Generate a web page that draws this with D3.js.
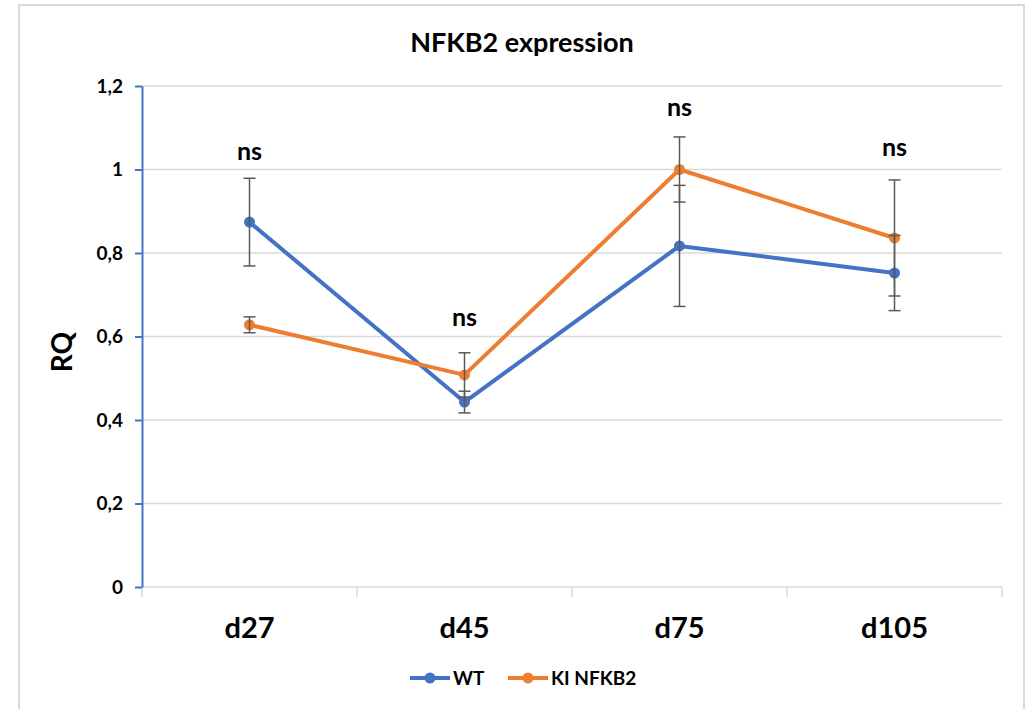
<!DOCTYPE html>
<html>
<head>
<meta charset="utf-8">
<script src="https://cdn.jsdelivr.net/npm/d3@7/dist/d3.min.js"></script>
<style>
  body { margin: 0; background: #fff; }
  text { font-family: Lato, "Open Sans", sans-serif; font-weight: bold; fill: #000; }
</style>
</head>
<body>
<div id="chart"></div>
<script>
var days = ["d27", "d45", "d75", "d105"];
var wtValues = [0.874, 0.443, 0.817, 0.752];
var wtErrors = [0.105, 0.026, 0.145, 0.090];
var kiValues = [0.628, 0.508, 1.000, 0.836];
var kiErrors = [0.019, 0.053, 0.078, 0.139];
var nsLabels = ["ns", "ns", "ns", "ns"];
var nsHeights = [1.042, 0.644, 1.147, 1.051];
var yTicks = [0, 0.2, 0.4, 0.6, 0.8, 1, 1.2];
var seriesNames = ["WT", "KI NFKB2"];
var seriesColors = ["#4472C4", "#ED7D31"];

var width = 1029, height = 709;
var margin = {top: 86, right: 27, bottom: 122, left: 142};

var svg = d3.select("#chart").append("svg")
    .attr("width", width)
    .attr("height", height);

// chart border
svg.append("rect")
    .attr("x", 19).attr("y", 5)
    .attr("width", 1005).attr("height", 720)
    .attr("fill", "none")
    .attr("stroke", "#d9d9d9")
    .attr("stroke-width", 2);

var x = d3.scaleBand()
    .domain(days)
    .range([margin.left, width - margin.right]);

var y = d3.scaleLinear()
    .domain([0, 1.2])
    .range([height - margin.bottom, margin.top]);

var cx = function(d) { return x(d) + x.bandwidth() / 2; };

// gridlines
svg.append("g")
    .selectAll("line")
    .data(yTicks.slice(1))
    .enter().append("line")
    .attr("x1", margin.left).attr("x2", width - margin.right)
    .attr("y1", function(d) { return y(d); })
    .attr("y2", function(d) { return y(d); })
    .attr("stroke", "#d9d9d9")
    .attr("stroke-width", 1.5);

// x axis (grey with tick marks at band boundaries)
var xAxis = svg.append("g")
    .attr("transform", "translate(0," + y(0) + ")");
xAxis.append("line")
    .attr("x1", margin.left).attr("x2", width - margin.right)
    .attr("stroke", "#d9d9d9").attr("stroke-width", 1.5);
var bounds = days.map(function(d) { return x(d); }).concat([x(days[days.length - 1]) + x.bandwidth()]);
xAxis.selectAll(".xt")
    .data(bounds)
    .enter().append("line")
    .attr("x1", function(d) { return d; }).attr("x2", function(d) { return d; })
    .attr("y1", 0).attr("y2", 10)
    .attr("stroke", "#d9d9d9").attr("stroke-width", 1.5);
xAxis.selectAll(".xl")
    .data(days)
    .enter().append("text")
    .attr("x", cx)
    .attr("y", 51)
    .attr("text-anchor", "middle")
    .style("font-size", "29px")
    .text(function(d) { return d; });

// y axis (blue)
var yAxis = svg.append("g")
    .attr("transform", "translate(" + margin.left + ",0)")
    .call(d3.axisLeft(y)
        .tickValues(yTicks)
        .tickSizeInner(7)
        .tickSizeOuter(0)
        .tickPadding(12)
        .tickFormat(function(d) { return String(d).replace(".", ","); }));
yAxis.select(".domain").attr("stroke", "#4472C4").attr("stroke-width", 2);
yAxis.selectAll(".tick line").attr("stroke", "#4472C4").attr("stroke-width", 2);
yAxis.selectAll(".tick text")
    .style("font-size", "19px")
    .style("font-family", "Lato, sans-serif")
    .attr("fill", "#000");

// y label
svg.append("text")
    .attr("transform", "translate(72,352) rotate(-90)")
    .attr("text-anchor", "middle")
    .style("font-size", "28px")
    .text("RQ");

// title
svg.append("text")
    .attr("x", 522).attr("y", 52)
    .attr("text-anchor", "middle")
    .style("font-size", "27px")
    .text("NFKB2 expression");

var series = [
  {name: seriesNames[0], color: seriesColors[0], values: wtValues, errors: wtErrors},
  {name: seriesNames[1], color: seriesColors[1], values: kiValues, errors: kiErrors}
];

var line = d3.line()
    .x(function(d) { return cx(d.day); })
    .y(function(d) { return y(d.v); });

// lines and markers
series.forEach(function(s) {
  var pts = days.map(function(d, i) { return {day: d, v: s.values[i], e: s.errors[i]}; });
  svg.append("path")
      .datum(pts)
      .attr("d", line)
      .attr("fill", "none")
      .attr("stroke", s.color)
      .attr("stroke-width", 4)
      .attr("stroke-linejoin", "round");
  svg.append("g").selectAll("circle")
      .data(pts)
      .enter().append("circle")
      .attr("cx", function(d) { return cx(d.day); })
      .attr("cy", function(d) { return y(d.v); })
      .attr("r", 5.5)
      .attr("fill", s.color);
});

// error bars
series.forEach(function(s) {
  var pts = days.map(function(d, i) { return {day: d, v: s.values[i], e: s.errors[i]}; });
  var eb = svg.append("g").selectAll("g")
      .data(pts)
      .enter().append("g")
      .attr("stroke", "#595959")
      .attr("stroke-width", 1.5);
  eb.append("line")
      .attr("x1", function(d) { return cx(d.day); })
      .attr("x2", function(d) { return cx(d.day); })
      .attr("y1", function(d) { return y(d.v - d.e); })
      .attr("y2", function(d) { return y(d.v + d.e); });
  [-1, 1].forEach(function(sign) {
    eb.append("line")
        .attr("x1", function(d) { return cx(d.day) - 6; })
        .attr("x2", function(d) { return cx(d.day) + 6; })
        .attr("y1", function(d) { return y(d.v + sign * d.e); })
        .attr("y2", function(d) { return y(d.v + sign * d.e); });
  });
});

// significance labels
svg.append("g").selectAll("text")
    .data(days)
    .enter().append("text")
    .attr("x", cx)
    .attr("y", function(d, i) { return y(nsHeights[i]) + 8; })
    .attr("text-anchor", "middle")
    .style("font-size", "25px")
    .text(function(d, i) { return nsLabels[i]; });

// legend
var legendX = [410, 508];
var legend = svg.append("g").selectAll("g")
    .data(series)
    .enter().append("g")
    .attr("transform", function(d, i) { return "translate(" + legendX[i] + ",678)"; });
legend.append("line")
    .attr("x1", 0).attr("x2", 40)
    .attr("stroke", function(d) { return d.color; })
    .attr("stroke-width", 4);
legend.append("circle")
    .attr("cx", 20).attr("r", 5.5)
    .attr("fill", function(d) { return d.color; });
legend.append("text")
    .attr("x", 43).attr("y", 7)
    .style("font-size", "19px")
    .text(function(d) { return d.name; });
</script>
</body>
</html>
